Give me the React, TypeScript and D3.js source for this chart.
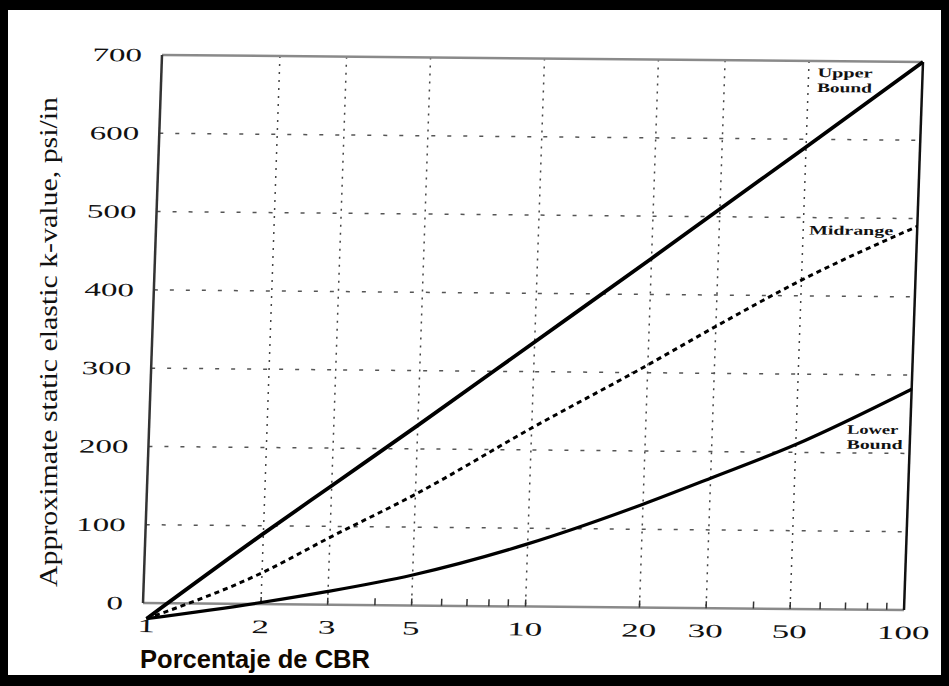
import React from "react";
import * as d3 from "d3";

// ---- data ----
const cbrValues = [1, 2, 3, 5, 10, 20, 30, 50, 100];
const upperBound = [-20, 90, 152, 230, 338, 446, 510, 590, 700];
const midrange = [-20, 40, 86, 142, 228, 310, 360, 420, 490];
const lowerBound = [-20, 2, 17, 39, 80, 132, 166, 210, 282];
const xTickValues = [1, 2, 3, 5, 10, 20, 30, 50, 100];
const xGridValues = [2, 3, 5, 10, 20, 30, 50];
const xMinorTicks = [4, 6, 7, 8, 9, 40, 60, 70, 80, 90];
const yTickValues = [0, 100, 200, 300, 400, 500, 600, 700];
const yGridValues = [100, 200, 300, 400, 500, 600];

const W = 949;
const H = 686;
const PW = 761; // plot width (un-skewed)
const PH = 548; // plot height (un-skewed)

export default function App() {
  const x = d3.scaleLog().domain([1, 100]).range([4, PW]);
  const y = d3.scaleLinear().domain([0, 700]).range([PH, 0]);

  const line = d3
    .line<[number, number]>()
    .x((d) => x(d[0]))
    .y((d) => y(d[1]))
    .curve(d3.curveMonotoneX);

  const toPts = (vals: number[]) => cbrValues.map((c, i) => [c, vals[i]] as [number, number]);

  // slight skew of the scanned figure
  const skew = `matrix(1, ${7 / PW}, ${-19 / PH}, 1, 162, 55)`;

  const labelFont = "'Liberation Serif', 'Times New Roman', serif";

  return (
    <svg
      width={W}
      height={H}
      style={{ position: "fixed", left: 0, top: 0, background: "#fff" }}
    >
      <rect x={0} y={0} width={W} height={H} fill="#fff" />
      {/* outer frame */}
      <rect x={0} y={0} width={W} height={10} fill="#000" />
      <rect x={0} y={0} width={8} height={H} fill="#000" />
      <rect x={W - 8} y={0} width={8} height={H} fill="#000" />
      <rect x={0} y={H - 11} width={W} height={11} fill="#000" />

      <g transform={skew}>
        {/* gridlines */}
        {xGridValues.map((v) => (
          <line
            key={"gx" + v}
            x1={x(v)}
            x2={x(v)}
            y1={0}
            y2={PH}
            stroke="#444"
            strokeWidth={1.5}
            strokeDasharray="2,6"
          />
        ))}
        {yGridValues.map((v) => (
          <line
            key={"gy" + v}
            x1={0}
            x2={PW}
            y1={y(v)}
            y2={y(v)}
            stroke="#555"
            strokeWidth={1.5}
            strokeDasharray="4,12"
          />
        ))}

        {/* frame of plot */}
        <line x1={0} x2={PW} y1={0} y2={0} stroke="#8a8a8a" strokeWidth={2.5} />
        <line x1={0} x2={PW} y1={PH} y2={PH} stroke="#8a8a8a" strokeWidth={2.5} />
        <line x1={0} x2={0} y1={0} y2={PH} stroke="#333" strokeWidth={2.5} />
        <line x1={PW} x2={PW} y1={0} y2={PH} stroke="#111" strokeWidth={2.5} />

        {/* ticks on the bottom axis */}
        {xGridValues.concat(xMinorTicks).map((v) => (
          <line
            key={"tk" + v}
            x1={x(v)}
            x2={x(v)}
            y1={PH}
            y2={PH - 7}
            stroke="#333"
            strokeWidth={1.5}
          />
        ))}

        {/* series */}
        <path d={line(toPts(upperBound)) || ""} fill="none" stroke="#000" strokeWidth={3.8} />
        <path
          d={line(toPts(midrange)) || ""}
          fill="none"
          stroke="#000"
          strokeWidth={3}
          strokeDasharray="5,4"
        />
        <path d={line(toPts(lowerBound)) || ""} fill="none" stroke="#000" strokeWidth={3.2} />

        {/* y tick labels */}
        {yTickValues.map((v) => (
          <text
            key={"yl" + v}
            x={-20}
            y={y(v)}
            dy="0.35em"
            textAnchor="end"
            fontFamily={labelFont}
            fontSize={19}
            fill="#111"
            textLength={String(v).length * 16.5}
            lengthAdjust="spacingAndGlyphs"
          >
            {v}
          </text>
        ))}

        {/* x tick labels */}
        {xTickValues.map((v) => (
          <text
            key={"xl" + v}
            x={x(v)}
            y={PH + 29}
            textAnchor="middle"
            fontFamily={labelFont}
            fontSize={19}
            fill="#111"
            textLength={String(v).length * 17.5}
            lengthAdjust="spacingAndGlyphs"
          >
            {v}
          </text>
        ))}

        {/* series labels */}
        <g fontFamily={labelFont} fontWeight="bold" fontSize={13} fill="#111">
          <text x={x(100) - 105} y={y(700) + 16} textLength={55} lengthAdjust="spacingAndGlyphs">
            Upper
          </text>
          <text x={x(100) - 105} y={y(700) + 31} textLength={55} lengthAdjust="spacingAndGlyphs">
            Bound
          </text>
          <text x={x(100) - 108} y={y(490) + 9} textLength={84} lengthAdjust="spacingAndGlyphs">
            Midrange
          </text>
          <text x={x(100) - 63} y={y(282) + 45} textLength={51} lengthAdjust="spacingAndGlyphs">
            Lower
          </text>
          <text x={x(100) - 63} y={y(282) + 60} textLength={56} lengthAdjust="spacingAndGlyphs">
            Bound
          </text>
        </g>
      </g>

      {/* axis titles */}
      <text
        transform="translate(48,342) rotate(-90)"
        textAnchor="middle"
        dy="0.35em"
        fontFamily={labelFont}
        fontSize={26}
        fill="#111"
        textLength={490}
        lengthAdjust="spacingAndGlyphs"
      >
        Approximate static elastic k-value, psi/in
      </text>
      <text
        x={140}
        y={668}
        fontFamily="'Liberation Sans', Arial, sans-serif"
        fontWeight="bold"
        fontSize={26}
        fill="#100800"
        textLength={230}
        lengthAdjust="spacingAndGlyphs"
      >
        Porcentaje de CBR
      </text>
    </svg>
  );
}
